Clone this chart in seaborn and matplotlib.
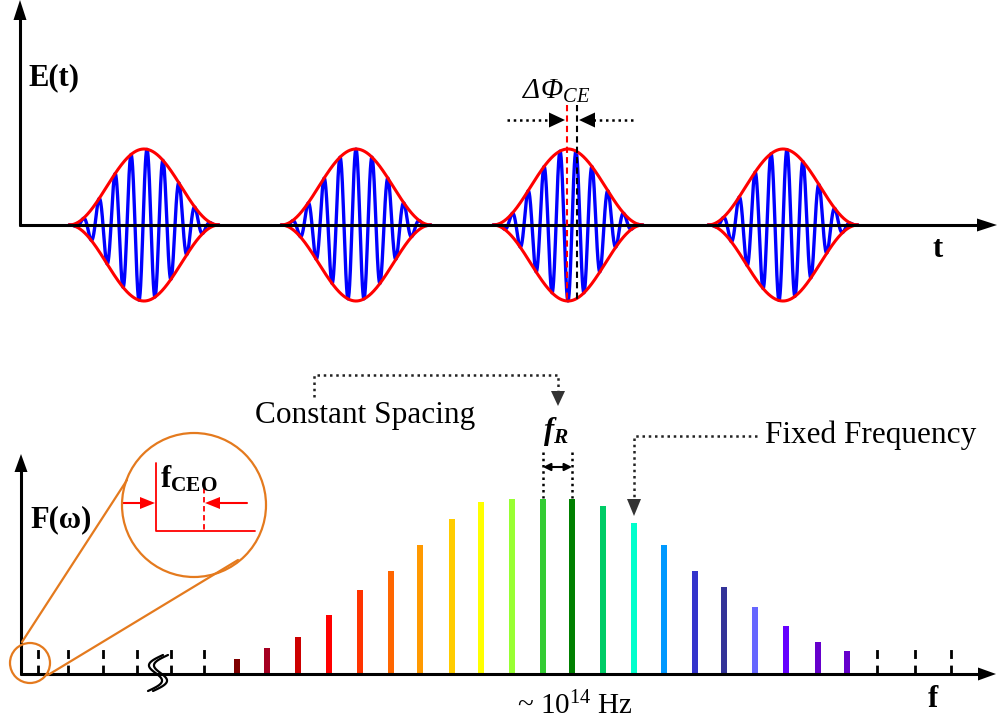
import numpy as np
import pandas as pd
import seaborn as sns
import matplotlib.pyplot as plt
from matplotlib.patches import Circle, Polygon

# --- top panel: pulse train E(t) ---
pulse_centers = [144, 356, 568, 783]
carrier_shift = [3, 0, 8, 4]          # carrier peak offset from envelope peak
pulse_halfwidth = 75
pulse_amplitude = 76
carrier_period = 16

# --- bottom panel: frequency comb F(w) ---
comb_freq = [237, 267, 298, 329, 360, 391, 420, 452, 481, 512, 543,
             572, 603, 634, 664, 695, 724, 755, 786, 818, 847]
comb_height = [15, 26, 37, 59, 84, 103, 129, 155, 172, 175, 175,
               175, 168, 151, 129, 103, 87, 67, 48, 32, 23]
comb_colors = ['#7f0000', '#a50021', '#cc0000', '#ff0000', '#ff3300', '#ff6600',
               '#ff9900', '#ffcc00', '#ffff00', '#99ff33', '#33cc33', '#008000',
               '#00cc66', '#00ffcc', '#0099ff', '#3333cc', '#333399', '#6666ff',
               '#6600ff', '#6600cc', '#6600cc']
dashed_left = [38, 68, 103, 137, 171, 204]
dashed_right = [877, 915, 951]

sns.set_style('white')
plt.rcParams['font.family'] = ['Liberation Serif', 'DejaVu Serif']
plt.rcParams['text.color'] = 'k'

fig = plt.figure(figsize=(9.97, 7.21), dpi=100)

# data axes for the pulses (y up, baseline at 0)
ax_top = fig.add_axes([0, 0, 1, 1])
ax_top.set_xlim(0, 997)
ax_top.set_ylim(225 - 721, 225)
ax_top.axis('off')

for c, s in zip(pulse_centers, carrier_shift):
    t = np.linspace(c - pulse_halfwidth, c + pulse_halfwidth, 600)
    env = pulse_amplitude * np.cos(np.pi * (t - c) / (2 * pulse_halfwidth)) ** 2
    e = env * np.cos(2 * np.pi * (t - c - s) / carrier_period)
    sns.lineplot(x=t, y=e, sort=False, estimator=None, color='#0000ff', lw=2.4, ax=ax_top, zorder=3)
    sns.lineplot(x=t, y=env, sort=False, estimator=None, color='#ff0000', lw=2.2, ax=ax_top, zorder=4)
    sns.lineplot(x=t, y=-env, sort=False, estimator=None, color='#ff0000', lw=2.2, ax=ax_top, zorder=4)
ax_top.set_xlim(0, 997)
ax_top.set_ylim(225 - 721, 225)

# data axes for the comb (y up, baseline at 0)
ax_spec = fig.add_axes([0, 0, 1, 1])
ax_spec.patch.set_alpha(0)
df = pd.DataFrame({'freq': comb_freq, 'height': comb_height,
                   'mode': [f'm{i}' for i in range(len(comb_freq))]})
sns.barplot(data=df, x='freq', y='height', hue='mode',
            palette=dict(zip(df['mode'], comb_colors)), native_scale=True,
            width=0.24, saturation=1, errorbar=None, legend=False,
            linewidth=0, ax=ax_spec)
for xd in dashed_left + dashed_right:
    ax_spec.plot([xd, xd], [0, 27], color='k', lw=2.0, ls=(0, (3.2, 2.4)))
ax_spec.set_xlim(0, 997)
ax_spec.set_ylim(674 - 721, 674)
ax_spec.axis('off')

# overlay in pixel coordinates for axes, arrows and labels
ax = fig.add_axes([0, 0, 1, 1])
ax.patch.set_alpha(0)
ax.set_xlim(0, 997)
ax.set_ylim(721, 0)
ax.axis('off')


def head(tip, d, L, W, color='k'):
    tx, ty = tip
    dx, dy = d
    bx, by = tx - dx * L, ty - dy * L
    px, py = -dy, dx
    ax.add_patch(Polygon([(tx, ty), (bx + px * W / 2, by + py * W / 2),
                          (bx - px * W / 2, by - py * W / 2)],
                         closed=True, fc=color, ec=color, lw=0, zorder=6))


# axis arrows
ax.plot([20, 20], [225, 15], color='k', lw=2.2, zorder=2)
head((20, 0), (0, -1), 20, 13)
ax.plot([20, 980], [225, 225], color='k', lw=2.2, zorder=1)
head((997, 225), (1, 0), 20, 13)
ax.plot([21, 21], [674, 468], color='k', lw=2.2, zorder=5)
head((21, 454), (0, -1), 18, 13)
ax.plot([21, 980], [674, 674], color='k', lw=2.2, zorder=5)
head((996, 674), (1, 0), 18, 13)

# delta phi markers
ax.plot([567, 567], [105, 300], color='#ff0000', lw=1.5, ls=(0, (3, 2)), zorder=7)
ax.plot([577, 577], [105, 300], color='k', lw=1.5, ls=(0, (3, 2)), zorder=7)
ax.plot([507, 551], [120, 120], color='k', lw=1.8, ls=(0, (1, 1.5)))
ax.plot([593, 635], [120, 120], color='k', lw=1.8, ls=(0, (1, 1.5)))
head((565, 120), (1, 0), 16, 15)
head((579, 120), (-1, 0), 16, 15)
ax.text(522, 99, r'$\mathregular{\Delta\Phi_{CE}}$', fontsize=21, fontstyle='italic')

ax.text(28, 85, 'E(t)', fontsize=22, fontweight='bold')
ax.text(932, 257, 't', fontsize=22, fontweight='bold')
ax.text(30, 527, 'F(ω)', fontsize=22, fontweight='bold')
ax.text(928, 707, 'f', fontsize=22, fontweight='bold')
ax.text(517, 714, r'~ $\mathregular{10^{14}}$ Hz', fontsize=21)

# constant spacing / f_R
ax.text(255, 423, 'Constant Spacing', fontsize=22.5)
ax.plot([314, 314, 558, 558], [397, 375, 375, 392], color='#222222', lw=1.8, ls=(0, (1, 1.5)))
head((558, 406), (0, 1), 15, 14, '#333333')
ax.text(543, 439, r'$\mathregular{f_R}$', fontsize=22, fontweight='bold', fontstyle='italic')
ax.plot([543, 543], [452, 498], color='k', lw=1.8, ls=(0, (1, 1.5)))
ax.plot([572, 572], [452, 498], color='k', lw=1.8, ls=(0, (1, 1.5)))
ax.annotate('', xy=(543, 467), xytext=(572, 467),
            arrowprops=dict(arrowstyle='<|-|>', color='k', lw=1.5,
                            mutation_scale=11, shrinkA=0, shrinkB=0))

# fixed frequency
ax.text(765, 443, 'Fixed Frequency', fontsize=22.5)
ax.plot([757, 634, 634], [436, 436, 499], color='#222222', lw=1.8, ls=(0, (1, 1.5)))
head((634, 516), (0, 1), 17, 14, '#333333')

# zoom circle for f_CEO
orange = '#e47a1e'
ax.add_patch(Circle((30, 663), 20, fill=False, ec=orange, lw=1.6, zorder=6))
ax.add_patch(Circle((194, 505), 72, fill=False, ec=orange, lw=1.6, zorder=6))
ax.plot([22, 127], [642, 480], color=orange, lw=1.6, zorder=6)
ax.plot([48, 238], [675, 560], color=orange, lw=1.6, zorder=6)
ax.plot([156, 156, 255], [463, 531, 531], color='#ff0000', lw=1.3)
ax.plot([204, 204], [488, 531], color='#ff0000', lw=1.3, ls=(0, (3, 2)))
ax.plot([123, 142], [503, 503], color='#ff0000', lw=1.5)
head((155, 503), (1, 0), 15, 12, '#ff0000')
ax.plot([247, 218], [503, 503], color='#ff0000', lw=1.5)
head((205, 503), (-1, 0), 15, 12, '#ff0000')
ax.text(160, 487, r'$\mathregular{f_{CEO}}$', fontsize=22, fontweight='bold')

# axis break mark
s = np.linspace(0, 1, 60)
ys = 655 + 36 * s
xs = 163 - 15 * s - 10 * np.sin(2 * np.pi * s)
ax.plot(xs, ys, color='k', lw=1.6, zorder=7)
ax.plot(xs + 5, ys, color='k', lw=1.6, zorder=7)

fig.savefig('out.png', dpi=100)
